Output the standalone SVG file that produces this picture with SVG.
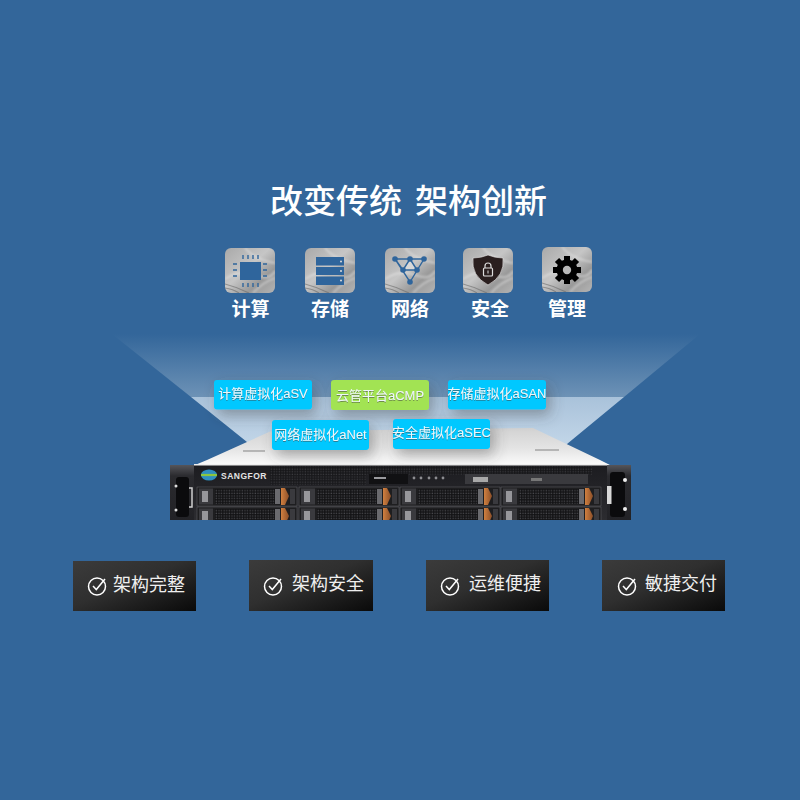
<svg xmlns="http://www.w3.org/2000/svg" width="800" height="800" viewBox="0 0 800 800">
<style>
text{font-family:"Liberation Sans","Noto Sans CJK SC",sans-serif}
.title{font-size:33px;fill:#fff;font-weight:500;font-family:"Noto Sans CJK SC",sans-serif}
.cap{font-size:19px;font-weight:700;fill:#fff;text-anchor:middle;font-family:"Noto Sans CJK SC",sans-serif}
.tag{font-size:13px;fill:#eef6fa;text-anchor:middle;filter:url(#ts)}
.feat{font-size:18px;fill:#efefef;font-family:"Noto Sans CJK SC",sans-serif;font-weight:400}
.tile{fill:url(#metal)}
.streak{fill:none;stroke:#eee;stroke-opacity:.5;stroke-width:1.8;filter:url(#b1)}
.dstreak{fill:none;stroke:#666;stroke-opacity:.55;stroke-width:1.2;filter:url(#b05)}
.ib{fill:#2f659c}
.il{stroke:#2f659c;stroke-width:1.4;fill:none}
.check{fill:none;stroke:#fff;stroke-width:1.5}
.box{fill:url(#dark)}
.tagb{fill:#00c8ff;filter:url(#sh)}
.tagg{fill:#a2e353;filter:url(#sh)}
.drive{fill:#1e1e20;stroke:#66666a;stroke-width:.5}
.mesh{fill:url(#mesh)}
.latch{fill:url(#latch)}
.pull{fill:#6a6a6e}
</style>
<defs>
<linearGradient id="metal" x1="0" y1="0" x2="1" y2="1"><stop offset="0" stop-color="#a9a9a9"/><stop offset=".45" stop-color="#c6c6c6"/><stop offset=".72" stop-color="#999"/><stop offset="1" stop-color="#b4b4b4"/></linearGradient>
<linearGradient id="latch" x1="0" y1="0" x2="1" y2="0"><stop offset="0" stop-color="#d08040"/><stop offset="1" stop-color="#8c4f28"/></linearGradient>
<linearGradient id="dark" x1="0" y1="0" x2="1" y2="1"><stop offset="0" stop-color="#3b3b3b"/><stop offset=".45" stop-color="#2f2f2f"/><stop offset=".85" stop-color="#141414"/><stop offset="1" stop-color="#0a0a0a"/></linearGradient>
<linearGradient id="beamTop" gradientUnits="userSpaceOnUse" x1="0" y1="334" x2="0" y2="397"><stop offset="0" stop-color="#33669a"/><stop offset="1" stop-color="#6d92b6"/></linearGradient>
<linearGradient id="beamLow" gradientUnits="userSpaceOnUse" x1="0" y1="397" x2="0" y2="445"><stop offset="0" stop-color="#a9c2da"/><stop offset="1" stop-color="#c2d6e8"/></linearGradient>
<linearGradient id="top" gradientUnits="userSpaceOnUse" x1="0" y1="428" x2="0" y2="465"><stop offset="0" stop-color="#d2d2d2"/><stop offset=".55" stop-color="#e4e4e4"/><stop offset="1" stop-color="#fbfbfb"/></linearGradient>
<linearGradient id="front" x1="0" y1="0" x2="0" y2="1"><stop offset="0" stop-color="#1c1c20"/><stop offset="1" stop-color="#2c2c30"/></linearGradient>
<linearGradient id="rail" x1="0" y1="0" x2="0" y2="1"><stop offset="0" stop-color="#55555a"/><stop offset=".2" stop-color="#2a2a2e"/><stop offset="1" stop-color="#222226"/></linearGradient>
<pattern id="mesh" width="2.600" height="2.600" patternUnits="userSpaceOnUse"><rect width="2.600" height="2.600" fill="#121214"/><rect x=".5" y=".5" width="1.300" height="1.300" fill="#47474b"/></pattern>
<filter id="b05"><feGaussianBlur stdDeviation=".5"/></filter>
<filter id="b1"><feGaussianBlur stdDeviation="1"/></filter>
<filter id="sh" x="-30%" y="-50%" width="170%" height="230%"><feDropShadow dx="4" dy="6" stdDeviation="7" flood-color="#444" flood-opacity=".4"/></filter>
<filter id="ts" x="-10%" y="-30%" width="120%" height="160%"><feDropShadow dx="0" dy="1" stdDeviation=".7" flood-color="#444" flood-opacity=".55"/></filter>
<symbol id="texture" viewBox="0 0 50 45"><path class="streak" d="M0 31Q15 21 30 27T50 23"/><path class="streak" d="M20 0Q30 12 50 15"/><path class="streak" d="M28 45Q38 34 50 30"/><path class="dstreak" d="M0 36Q12 39 24 45"/><path class="dstreak" d="M0 40Q8 41 14 45"/></symbol>
<g id="chk"><circle cx="0" cy="1.500" r="8.500" class="check"/><path class="check" d="M-4 1L-0.700 4.500L8 -6"/></g>
<g id="drive"><rect class="drive" width="100" height="19"/><rect x="2" y="1.500" width="14" height="16" fill="#3a3a3e"/><rect x="5" y="4" width="6" height="11" fill="#97979b"/><rect class="mesh" x="18" y="2" width="60" height="15"/><rect class="pull" x="78" y="2" width="5" height="15"/><path class="latch" d="M84 1L88 1L92 9L88 18H84Z"/><rect x="93" y="2" width="5" height="15" fill="#3a3a3e"/></g>
</defs>
<rect width="800" height="800" fill="#33669a"/>
<g id="title"><text class="title" x="270" y="213">改变传统</text><text class="title" x="415" y="213">架构创新</text></g>

<g id="beam">
<path d="M112 334H700L624 397H191Z" fill="url(#beamTop)"/>
<path d="M191 397H624L567 444L540 465H260L247 442Z" fill="url(#beamLow)"/>
</g>

<g id="node-compute"><rect class="tile" x="225" y="248" width="50" height="45" rx="6"/><use href="#texture" x="225" y="248" width="50" height="45"/><rect class="ib" x="240" y="262" width="21" height="18"/><path class="il" d="M243 255v4M248 255v4M253 255v4M258 255v4M243 283v4M248 283v4M253 283v4M258 283v4M233 264h4M233 270h4M233 276h4M263 264h4M263 270h4M263 276h4"/><text class="cap" x="250.500" y="316">计算</text></g>
<g id="node-storage"><rect class="tile" x="305" y="248" width="50" height="45" rx="6"/><use href="#texture" x="305" y="248" width="50" height="45"/><rect class="ib" x="316" y="257" width="28" height="8.500"/><rect class="ib" x="316" y="267" width="28" height="8"/><rect class="ib" x="316" y="276.500" width="28" height="8.500"/><circle cx="341" cy="261.500" r="1" fill="#ddd"/><circle cx="341" cy="271" r="1" fill="#ddd"/><circle cx="341" cy="280.500" r="1" fill="#ddd"/><text class="cap" x="330" y="316">存储</text></g>
<g id="node-network"><rect class="tile" x="385" y="248" width="50" height="45" rx="6"/><use href="#texture" x="385" y="248" width="50" height="45"/><path d="M410 259L417 270H403Z" fill="#d8d8d8"/><path class="il" d="M395 259H424L410 282ZM395 259L403 270H417M410 259L403 270M410 259L417 270"/><g class="ib"><circle cx="395" cy="259" r="2.800"/><circle cx="410" cy="259" r="2.800"/><circle cx="424" cy="259" r="2.800"/><circle cx="403" cy="270" r="2.800"/><circle cx="417" cy="270" r="2.800"/><circle cx="410" cy="282" r="2.800"/></g><text class="cap" x="410" y="316">网络</text></g>
<g id="node-security"><rect class="tile" x="463" y="248" width="50" height="45" rx="6"/><use href="#texture" x="463" y="248" width="50" height="45"/><path d="M488 255Q495 258 503 258Q505 276 488 285Q471 276 473 258Q481 258 488 255Z" fill="#2a1f1f" stroke="#f0f0f0" stroke-width=".6"/><rect x="483.500" y="268" width="9" height="8" rx="1" fill="none" stroke="#ddd" stroke-width="1.200"/><path d="M485 268v-2a3 3 0 0 1 6 0v2" fill="none" stroke="#ddd" stroke-width="1.200"/><path d="M488 270.500v3" stroke="#ddd"/><text class="cap" x="490" y="316">安全</text></g>
<g id="node-manage"><rect class="tile" x="542" y="247" width="50" height="45" rx="6"/><use href="#texture" x="542" y="247" width="50" height="45"/><circle cx="567" cy="270" r="7" fill="none" stroke="#000" stroke-width="7"/><g stroke="#000" stroke-width="6"><path d="M567 256v28M553 270h28M557 260l20 20M577 260l-20 20"/></g><circle cx="567" cy="270" r="4.200" fill="#b8b8b8"/><text class="cap" x="567" y="316">管理</text></g>

<g id="server">
<path d="M195 465L207 460L247 442L270 431.500L533 428L600 460L610 465Z" fill="url(#top)"/>
<path d="M243 451h22" stroke="#888" stroke-width="1.500" opacity=".7"/><path d="M535 450h24" stroke="#888" stroke-width="1.500" opacity=".7"/>
<path d="M170 465H194V520H170Z" fill="url(#rail)"/><rect x="176" y="477" width="13" height="40" rx="3" fill="#0b0b0d"/><circle cx="176" cy="486" r="1.500" fill="#ddd"/><circle cx="176" cy="510" r="1.500" fill="#ddd"/><path d="M189 488h3v19h-3" fill="none" stroke="#cfcfcf" stroke-width="1.500"/>
<path d="M607 465H631V520H607Z" fill="url(#rail)"/><rect x="610" y="472" width="15" height="45" rx="3" fill="#0b0b0d"/><circle cx="625" cy="480" r="2" fill="#eee"/><circle cx="625" cy="509" r="2" fill="#eee"/><rect x="607" y="486" width="4.500" height="18" fill="#d8d8d8"/>
<rect x="194" y="464" width="413" height="56" fill="url(#front)"/>
<rect x="194" y="464" width="413" height="1.500" fill="#efefef"/>
<rect x="270" y="466.500" width="322" height="8" fill="url(#mesh)" opacity=".7"/>
<rect x="270" y="474" width="96" height="11" fill="url(#mesh)" opacity=".55"/>
<ellipse cx="209" cy="475" rx="8" ry="5.500" fill="#2f8fc0"/><path d="M201 475h16" stroke="#8cc63f" stroke-width="2.200"/>
<text x="221" y="479" style="font-size:8.500px;font-weight:700;fill:#e4e4e4;letter-spacing:.5px">SANGFOR</text>
<rect x="369" y="474" width="39" height="10" fill="#111113"/><rect x="374" y="477" width="12" height="2" fill="#9a9a9e"/>
<rect x="465" y="474" width="123" height="10" fill="#3a3a3e"/>
<rect x="473" y="477" width="15" height="5" fill="#a8a8a8"/><rect x="531" y="478" width="11" height="3" fill="#777"/>
<g fill="#8d8d91"><circle cx="414" cy="478" r="1.400"/><circle cx="421" cy="478" r="1.400"/><circle cx="429" cy="478" r="1.400"/><circle cx="436" cy="478" r="1.400"/><circle cx="443" cy="478" r="1.400"/></g>
<g id="drives"><use href="#drive" x="197" y="487"/><use href="#drive" x="299" y="487"/><use href="#drive" x="400" y="487"/><use href="#drive" x="501" y="487"/><use href="#drive" x="197" y="507"/><use href="#drive" x="299" y="507"/><use href="#drive" x="400" y="507"/><use href="#drive" x="501" y="507"/></g>
<rect x="165" y="520" width="470" height="10" fill="#33669a"/>
</g>

<g id="node-asv"><rect class="tagb" x="214" y="380" width="98" height="29.500" rx="3"/><text class="tag" x="263" y="398">计算虚拟化aSV</text></g>
<g id="node-acmp"><rect class="tagg" x="331" y="380" width="98" height="30" rx="3"/><text class="tag" x="380" y="400">云管平台aCMP</text></g>
<g id="node-asan"><rect class="tagb" x="448" y="380" width="98" height="29.500" rx="3"/><text class="tag" x="497" y="398">存储虚拟化aSAN</text></g>
<g id="node-anet"><rect class="tagb" x="272" y="420" width="97" height="30" rx="3"/><text class="tag" x="320.500" y="439">网络虚拟化aNet</text></g>
<g id="node-asec"><rect class="tagb" x="393" y="419" width="97" height="30" rx="3"/><text class="tag" x="441.500" y="437">安全虚拟化aSEC</text></g>

<g id="node-f1"><rect class="box" x="73" y="561" width="123" height="50"/><use href="#chk" x="97" y="585"/><text class="feat" x="113" y="591">架构完整</text></g>
<g id="node-f2"><rect class="box" x="249" y="560" width="124" height="51"/><use href="#chk" x="273" y="585"/><text class="feat" x="292" y="590">架构安全</text></g>
<g id="node-f3"><rect class="box" x="426" y="560" width="123" height="51"/><use href="#chk" x="450" y="585"/><text class="feat" x="469" y="590">运维便捷</text></g>
<g id="node-f4"><rect class="box" x="602" y="560" width="123" height="51"/><use href="#chk" x="627" y="585"/><text class="feat" x="645" y="590">敏捷交付</text></g>
</svg>
